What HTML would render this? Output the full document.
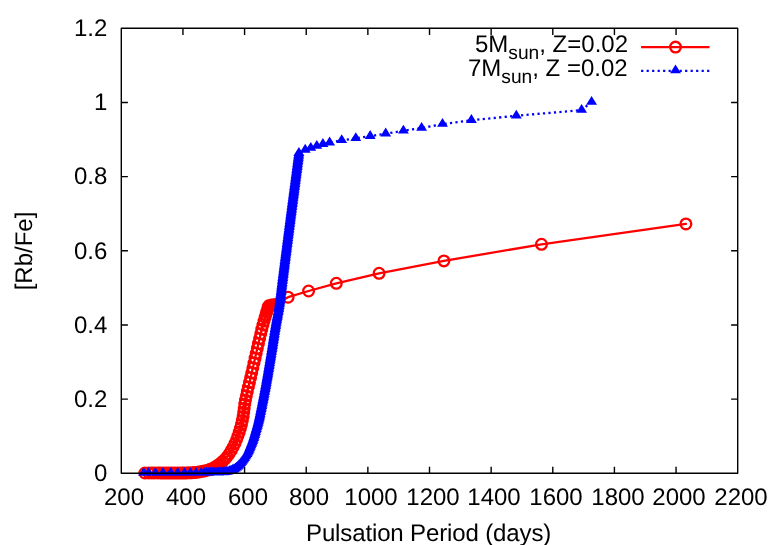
<!DOCTYPE html>
<html><head><meta charset="utf-8"><title>plot</title><style>html,body{margin:0;padding:0;background:#fff}
#c{position:relative;width:778px;height:545px;overflow:hidden;background:#fff;font-family:"Liberation Sans",sans-serif;font-size:24px;color:#000}
.t{position:absolute;white-space:nowrap;line-height:24px;height:24px;will-change:transform;text-rendering:geometricPrecision}
.r{text-align:right}
.c{text-align:center}
sub{font-size:19.2px;margin-right:0px;vertical-align:baseline;position:relative;top:6.8px;line-height:0}
</style></head><body><div id="c"><svg width="778" height="545" viewBox="0 0 778 545" style="position:absolute;left:0;top:0">
<rect width="778" height="545" fill="#fff"/>
<path d="M182.94,473.3v-6.6M182.94,28.3v6.6M244.58,473.3v-6.6M244.58,28.3v6.6M306.22,473.3v-6.6M306.22,28.3v6.6M367.86,473.3v-6.6M367.86,28.3v6.6M429.5,473.3v-6.6M429.5,28.3v6.6M491.14,473.3v-6.6M491.14,28.3v6.6M552.78,473.3v-6.6M552.78,28.3v6.6M614.42,473.3v-6.6M614.42,28.3v6.6M676.06,473.3v-6.6M676.06,28.3v6.6M121.3,399.13h6.6M737.7,399.13h-6.6M121.3,324.97h6.6M737.7,324.97h-6.6M121.3,250.8h6.6M737.7,250.8h-6.6M121.3,176.63h6.6M737.7,176.63h-6.6M121.3,102.47h6.6M737.7,102.47h-6.6" stroke="#000" stroke-width="1.4" fill="none" stroke-linejoin="round"/>
<g stroke="#f00" stroke-width="2.3" fill="none" stroke-linejoin="round" stroke-linecap="round">
<polyline points="144.85,473 148.8,473 151.9,473 154.6,473 158,473 160.5,473 162.8,473 164.8,473.01 166.63,473.01 168.44,473 170.25,473 172.06,472.99 173.88,472.99 175.7,472.98 177.51,472.98 179.33,472.97 181.15,472.96 182.96,472.95 184.77,472.92 186.59,472.89 188.42,472.85 190.26,472.79 192.09,472.7 193.91,472.57 195.75,472.4 197.56,472.17 199.38,471.9 201.2,471.6 202.99,471.28 204.75,470.89 206.51,470.44 208.24,469.92 209.97,469.33 211.66,468.66 213.32,467.9 215.04,466.97 216.86,465.87 218.73,464.6 220.69,463.11 222.73,461.34 224.85,459.23 227.01,456.75 229.23,453.79 231.35,450.46 233.25,447.01 234.97,443.43 236.51,439.75 237.93,435.99 239.24,432.18 240.4,428.34 241.45,424.43 242.35,420.43 243.1,416.4 243.68,412.35 244.2,408.24 244.78,404.12 245.5,400 246.38,395.77 247.35,391.43 248.39,387 249.48,382.39 250.6,377.65 251.72,372.79 252.84,367.92 253.97,363.04 255.09,358.17 256.22,353.26 257.34,348.34 258.45,343.46 259.59,338.54 260.72,333.71 261.81,329.21 262.92,325.01 264.03,321.08 265.1,317.38 265.86,314.77 266.65,312.16 267.44,309.55 268.08,306.89 269.28,305.45 271.28,305.02 273.3,304.7 275.29,304.41 288.1,297.2 308.6,291 336.3,283.3 379.1,273.3 443.9,260.9 541.5,244.3 685.9,223.9"/>
<path d="M641.1,47.1H709.5" stroke-linecap="butt"/>
<path d="M139.5,473a5.35,5.35 0 1,0 10.7,0a5.35,5.35 0 1,0 -10.7,0M143.45,473a5.35,5.35 0 1,0 10.7,0a5.35,5.35 0 1,0 -10.7,0M146.55,473a5.35,5.35 0 1,0 10.7,0a5.35,5.35 0 1,0 -10.7,0M149.25,473a5.35,5.35 0 1,0 10.7,0a5.35,5.35 0 1,0 -10.7,0M152.65,473a5.35,5.35 0 1,0 10.7,0a5.35,5.35 0 1,0 -10.7,0M155.15,473a5.35,5.35 0 1,0 10.7,0a5.35,5.35 0 1,0 -10.7,0M157.45,473a5.35,5.35 0 1,0 10.7,0a5.35,5.35 0 1,0 -10.7,0M159.45,473.01a5.35,5.35 0 1,0 10.7,0a5.35,5.35 0 1,0 -10.7,0M161.28,473.01a5.35,5.35 0 1,0 10.7,0a5.35,5.35 0 1,0 -10.7,0M163.09,473a5.35,5.35 0 1,0 10.7,0a5.35,5.35 0 1,0 -10.7,0M164.9,473a5.35,5.35 0 1,0 10.7,0a5.35,5.35 0 1,0 -10.7,0M166.71,472.99a5.35,5.35 0 1,0 10.7,0a5.35,5.35 0 1,0 -10.7,0M168.53,472.99a5.35,5.35 0 1,0 10.7,0a5.35,5.35 0 1,0 -10.7,0M170.35,472.98a5.35,5.35 0 1,0 10.7,0a5.35,5.35 0 1,0 -10.7,0M172.16,472.98a5.35,5.35 0 1,0 10.7,0a5.35,5.35 0 1,0 -10.7,0M173.98,472.97a5.35,5.35 0 1,0 10.7,0a5.35,5.35 0 1,0 -10.7,0M175.8,472.96a5.35,5.35 0 1,0 10.7,0a5.35,5.35 0 1,0 -10.7,0M177.61,472.95a5.35,5.35 0 1,0 10.7,0a5.35,5.35 0 1,0 -10.7,0M179.42,472.92a5.35,5.35 0 1,0 10.7,0a5.35,5.35 0 1,0 -10.7,0M181.24,472.89a5.35,5.35 0 1,0 10.7,0a5.35,5.35 0 1,0 -10.7,0M183.07,472.85a5.35,5.35 0 1,0 10.7,0a5.35,5.35 0 1,0 -10.7,0M184.91,472.79a5.35,5.35 0 1,0 10.7,0a5.35,5.35 0 1,0 -10.7,0M186.74,472.7a5.35,5.35 0 1,0 10.7,0a5.35,5.35 0 1,0 -10.7,0M188.56,472.57a5.35,5.35 0 1,0 10.7,0a5.35,5.35 0 1,0 -10.7,0M190.4,472.4a5.35,5.35 0 1,0 10.7,0a5.35,5.35 0 1,0 -10.7,0M192.21,472.17a5.35,5.35 0 1,0 10.7,0a5.35,5.35 0 1,0 -10.7,0M194.03,471.9a5.35,5.35 0 1,0 10.7,0a5.35,5.35 0 1,0 -10.7,0M195.85,471.6a5.35,5.35 0 1,0 10.7,0a5.35,5.35 0 1,0 -10.7,0M197.64,471.28a5.35,5.35 0 1,0 10.7,0a5.35,5.35 0 1,0 -10.7,0M199.4,470.89a5.35,5.35 0 1,0 10.7,0a5.35,5.35 0 1,0 -10.7,0M201.16,470.44a5.35,5.35 0 1,0 10.7,0a5.35,5.35 0 1,0 -10.7,0M202.89,469.92a5.35,5.35 0 1,0 10.7,0a5.35,5.35 0 1,0 -10.7,0M204.62,469.33a5.35,5.35 0 1,0 10.7,0a5.35,5.35 0 1,0 -10.7,0M206.31,468.66a5.35,5.35 0 1,0 10.7,0a5.35,5.35 0 1,0 -10.7,0M207.97,467.9a5.35,5.35 0 1,0 10.7,0a5.35,5.35 0 1,0 -10.7,0M209.69,466.97a5.35,5.35 0 1,0 10.7,0a5.35,5.35 0 1,0 -10.7,0M211.51,465.87a5.35,5.35 0 1,0 10.7,0a5.35,5.35 0 1,0 -10.7,0M213.38,464.6a5.35,5.35 0 1,0 10.7,0a5.35,5.35 0 1,0 -10.7,0M215.34,463.11a5.35,5.35 0 1,0 10.7,0a5.35,5.35 0 1,0 -10.7,0M217.38,461.34a5.35,5.35 0 1,0 10.7,0a5.35,5.35 0 1,0 -10.7,0M219.5,459.23a5.35,5.35 0 1,0 10.7,0a5.35,5.35 0 1,0 -10.7,0M221.66,456.75a5.35,5.35 0 1,0 10.7,0a5.35,5.35 0 1,0 -10.7,0M223.88,453.79a5.35,5.35 0 1,0 10.7,0a5.35,5.35 0 1,0 -10.7,0M226,450.46a5.35,5.35 0 1,0 10.7,0a5.35,5.35 0 1,0 -10.7,0M227.9,447.01a5.35,5.35 0 1,0 10.7,0a5.35,5.35 0 1,0 -10.7,0M229.62,443.43a5.35,5.35 0 1,0 10.7,0a5.35,5.35 0 1,0 -10.7,0M231.16,439.75a5.35,5.35 0 1,0 10.7,0a5.35,5.35 0 1,0 -10.7,0M232.58,435.99a5.35,5.35 0 1,0 10.7,0a5.35,5.35 0 1,0 -10.7,0M233.89,432.18a5.35,5.35 0 1,0 10.7,0a5.35,5.35 0 1,0 -10.7,0M235.05,428.34a5.35,5.35 0 1,0 10.7,0a5.35,5.35 0 1,0 -10.7,0M236.1,424.43a5.35,5.35 0 1,0 10.7,0a5.35,5.35 0 1,0 -10.7,0M237,420.43a5.35,5.35 0 1,0 10.7,0a5.35,5.35 0 1,0 -10.7,0M237.75,416.4a5.35,5.35 0 1,0 10.7,0a5.35,5.35 0 1,0 -10.7,0M238.33,412.35a5.35,5.35 0 1,0 10.7,0a5.35,5.35 0 1,0 -10.7,0M238.85,408.24a5.35,5.35 0 1,0 10.7,0a5.35,5.35 0 1,0 -10.7,0M239.43,404.12a5.35,5.35 0 1,0 10.7,0a5.35,5.35 0 1,0 -10.7,0M240.15,400a5.35,5.35 0 1,0 10.7,0a5.35,5.35 0 1,0 -10.7,0M241.03,395.77a5.35,5.35 0 1,0 10.7,0a5.35,5.35 0 1,0 -10.7,0M242,391.43a5.35,5.35 0 1,0 10.7,0a5.35,5.35 0 1,0 -10.7,0M243.04,387a5.35,5.35 0 1,0 10.7,0a5.35,5.35 0 1,0 -10.7,0M244.13,382.39a5.35,5.35 0 1,0 10.7,0a5.35,5.35 0 1,0 -10.7,0M245.25,377.65a5.35,5.35 0 1,0 10.7,0a5.35,5.35 0 1,0 -10.7,0M246.37,372.79a5.35,5.35 0 1,0 10.7,0a5.35,5.35 0 1,0 -10.7,0M247.49,367.92a5.35,5.35 0 1,0 10.7,0a5.35,5.35 0 1,0 -10.7,0M248.62,363.04a5.35,5.35 0 1,0 10.7,0a5.35,5.35 0 1,0 -10.7,0M249.74,358.17a5.35,5.35 0 1,0 10.7,0a5.35,5.35 0 1,0 -10.7,0M250.87,353.26a5.35,5.35 0 1,0 10.7,0a5.35,5.35 0 1,0 -10.7,0M251.99,348.34a5.35,5.35 0 1,0 10.7,0a5.35,5.35 0 1,0 -10.7,0M253.1,343.46a5.35,5.35 0 1,0 10.7,0a5.35,5.35 0 1,0 -10.7,0M254.24,338.54a5.35,5.35 0 1,0 10.7,0a5.35,5.35 0 1,0 -10.7,0M255.37,333.71a5.35,5.35 0 1,0 10.7,0a5.35,5.35 0 1,0 -10.7,0M256.46,329.21a5.35,5.35 0 1,0 10.7,0a5.35,5.35 0 1,0 -10.7,0M257.57,325.01a5.35,5.35 0 1,0 10.7,0a5.35,5.35 0 1,0 -10.7,0M258.68,321.08a5.35,5.35 0 1,0 10.7,0a5.35,5.35 0 1,0 -10.7,0M259.75,317.38a5.35,5.35 0 1,0 10.7,0a5.35,5.35 0 1,0 -10.7,0M260.51,314.77a5.35,5.35 0 1,0 10.7,0a5.35,5.35 0 1,0 -10.7,0M261.3,312.16a5.35,5.35 0 1,0 10.7,0a5.35,5.35 0 1,0 -10.7,0M262.09,309.55a5.35,5.35 0 1,0 10.7,0a5.35,5.35 0 1,0 -10.7,0M262.73,306.89a5.35,5.35 0 1,0 10.7,0a5.35,5.35 0 1,0 -10.7,0M263.93,305.45a5.35,5.35 0 1,0 10.7,0a5.35,5.35 0 1,0 -10.7,0M265.93,305.02a5.35,5.35 0 1,0 10.7,0a5.35,5.35 0 1,0 -10.7,0M267.95,304.7a5.35,5.35 0 1,0 10.7,0a5.35,5.35 0 1,0 -10.7,0M269.94,304.41a5.35,5.35 0 1,0 10.7,0a5.35,5.35 0 1,0 -10.7,0M282.75,297.2a5.35,5.35 0 1,0 10.7,0a5.35,5.35 0 1,0 -10.7,0M303.25,291a5.35,5.35 0 1,0 10.7,0a5.35,5.35 0 1,0 -10.7,0M330.95,283.3a5.35,5.35 0 1,0 10.7,0a5.35,5.35 0 1,0 -10.7,0M373.75,273.3a5.35,5.35 0 1,0 10.7,0a5.35,5.35 0 1,0 -10.7,0M438.55,260.9a5.35,5.35 0 1,0 10.7,0a5.35,5.35 0 1,0 -10.7,0M536.15,244.3a5.35,5.35 0 1,0 10.7,0a5.35,5.35 0 1,0 -10.7,0M680.55,223.9a5.35,5.35 0 1,0 10.7,0a5.35,5.35 0 1,0 -10.7,0M670.15,47.1a5.35,5.35 0 1,0 10.7,0a5.35,5.35 0 1,0 -10.7,0"/></g>
<g stroke="#00f" stroke-width="2.3" fill="none" stroke-dasharray="2.2 3.3">
<polyline points="143.6,473 148.5,473 155.25,473 162.9,473 170.8,473 177.75,473 184.5,473 190.35,473 196.2,473 201.15,473 204.3,473 206.7,472.97 208.8,472.92 210.7,472.89 212.4,472.85 213.9,472.82 215.4,472.79 217.08,472.73 218.64,472.67 220.19,472.59 221.75,472.51 223.32,472.42 224.88,472.3 226.42,472.1 227.96,471.75 229.49,471.31 230.99,470.83 232.46,470.23 233.86,469.53 235.22,468.73 236.5,467.82 237.67,466.81 238.79,465.72 239.85,464.58 240.85,463.38 241.83,462.13 242.77,460.84 243.67,459.55 244.52,458.24 245.36,456.89 246.17,455.55 246.98,454.21 247.77,452.82 248.47,451.41 249.13,449.97 249.76,448.5 250.37,447.07 250.97,445.61 251.56,444.15 252.13,442.67 252.69,441.18 253.22,439.68 253.72,438.17 254.19,436.67 254.65,435.16 255.09,433.66 255.52,432.15 255.96,430.65 256.4,429.16 256.86,427.64 257.32,426.13 257.74,424.63 258.15,423.09 258.53,421.55 258.89,420 259.24,418.46 259.57,416.94 259.9,415.42 260.22,413.91 260.54,412.37 260.86,410.83 261.17,409.3 261.48,407.77 261.79,406.23 262.11,404.69 262.41,403.14 262.72,401.6 263.03,400.05 263.33,398.52 263.63,396.98 263.94,395.44 264.23,393.92 264.52,392.39 264.82,390.86 265.1,389.32 265.39,387.78 265.68,386.23 265.96,384.69 266.24,383.16 266.51,381.63 266.78,380.1 267.05,378.56 267.32,377.02 267.59,375.47 267.86,373.93 268.12,372.4 268.38,370.87 268.64,369.34 268.9,367.81 269.16,366.27 269.42,364.73 269.68,363.18 269.94,361.64 270.19,360.11 270.45,358.57 270.7,357.02 270.96,355.47 271.22,353.93 271.47,352.39 271.72,350.86 271.97,349.32 272.22,347.79 272.46,346.24 272.7,344.7 272.94,343.17 273.18,341.63 273.42,340.07 273.66,338.52 273.9,336.99 274.14,335.45 274.38,333.9 274.63,332.36 274.87,330.82 275.12,329.28 275.38,327.74 275.64,326.21 275.9,324.67 276.18,323.12 276.46,321.57 276.75,320.04 277.04,318.51 277.33,316.97 277.62,315.42 277.9,313.89 278.18,312.36 278.46,310.83 278.73,309.28 278.99,307.73 279.24,306.18 279.48,304.64 279.71,303.1 279.94,301.55 280.15,300 280.36,298.45 280.55,296.9 280.75,295.35 280.93,293.78 281.12,292.22 281.3,290.67 281.48,289.12 281.66,287.57 281.84,286.02 282.03,284.48 282.22,282.93 282.4,281.39 282.6,279.84 282.79,278.3 282.98,276.75 283.18,275.21 283.37,273.66 283.57,272.12 283.77,270.57 283.96,269.03 284.16,267.49 284.35,265.95 284.55,264.4 284.75,262.86 284.94,261.31 285.14,259.76 285.34,258.22 285.54,256.67 285.73,255.13 285.93,253.59 286.13,252.05 286.32,250.51 286.52,248.96 286.72,247.42 286.91,245.88 287.11,244.34 287.31,242.8 287.51,241.26 287.7,239.71 287.9,238.17 288.1,236.63 288.3,235.08 288.5,233.54 288.69,232 288.89,230.46 289.09,228.92 289.29,227.38 289.49,225.84 289.69,224.3 289.88,222.76 290.08,221.23 290.28,219.69 290.48,218.15 290.68,216.61 290.88,215.07 291.08,213.53 291.28,212 291.48,210.46 291.68,208.92 291.88,207.38 292.09,205.83 292.29,204.29 292.49,202.75 292.69,201.21 292.9,199.66 293.1,198.12 293.3,196.58 293.5,195.04 293.71,193.49 293.91,191.95 294.11,190.41 294.32,188.86 294.52,187.32 294.72,185.78 294.93,184.24 295.13,182.7 295.33,181.16 295.53,179.62 295.74,178.08 295.94,176.53 296.14,174.98 296.35,173.44 296.55,171.89 296.76,170.34 296.96,168.8 297.16,167.26 297.36,165.72 297.56,164.18 297.77,162.64 297.97,161.09 298.17,159.55 298.37,158 298.56,156.46 298.76,154.9 298.95,153.33 298.9,153.06 305.2,149.9 310.8,148.1 316.8,146 322.9,144.2 329.6,142.7 341.7,140.3 355.8,138.3 370.2,136.2 385.7,133.7 403.4,130.8 421.6,128 442.5,124.1 471.4,120.2 516.3,115.8 581.6,110.1 591.6,102"/>
<path d="M641.1,70.8H709.5"/></g>
<path d="M143.6,466.9l-5.45,8.83h10.9zM148.5,466.9l-5.45,8.83h10.9zM155.25,466.9l-5.45,8.83h10.9zM162.9,466.9l-5.45,8.83h10.9zM170.8,466.9l-5.45,8.83h10.9zM177.75,466.9l-5.45,8.83h10.9zM184.5,466.9l-5.45,8.83h10.9zM190.35,466.9l-5.45,8.83h10.9zM196.2,466.9l-5.45,8.83h10.9zM201.15,466.9l-5.45,8.83h10.9zM204.3,466.9l-5.45,8.83h10.9zM206.7,466.86l-5.45,8.83h10.9zM208.8,466.82l-5.45,8.83h10.9zM210.7,466.78l-5.45,8.83h10.9zM212.4,466.75l-5.45,8.83h10.9zM213.9,466.72l-5.45,8.83h10.9zM215.4,466.69l-5.45,8.83h10.9zM217.08,466.62l-5.45,8.83h10.9zM218.64,466.56l-5.45,8.83h10.9zM220.19,466.49l-5.45,8.83h10.9zM221.75,466.41l-5.45,8.83h10.9zM223.32,466.31l-5.45,8.83h10.9zM224.88,466.19l-5.45,8.83h10.9zM226.42,466l-5.45,8.83h10.9zM227.96,465.65l-5.45,8.83h10.9zM229.49,465.21l-5.45,8.83h10.9zM230.99,464.72l-5.45,8.83h10.9zM232.46,464.12l-5.45,8.83h10.9zM233.86,463.43l-5.45,8.83h10.9zM235.22,462.63l-5.45,8.83h10.9zM236.5,461.72l-5.45,8.83h10.9zM237.67,460.7l-5.45,8.83h10.9zM238.79,459.61l-5.45,8.83h10.9zM239.85,458.48l-5.45,8.83h10.9zM240.85,457.28l-5.45,8.83h10.9zM241.83,456.02l-5.45,8.83h10.9zM242.77,454.74l-5.45,8.83h10.9zM243.67,453.45l-5.45,8.83h10.9zM244.52,452.14l-5.45,8.83h10.9zM245.36,450.79l-5.45,8.83h10.9zM246.17,449.44l-5.45,8.83h10.9zM246.98,448.11l-5.45,8.83h10.9zM247.77,446.72l-5.45,8.83h10.9zM248.47,445.3l-5.45,8.83h10.9zM249.13,443.86l-5.45,8.83h10.9zM249.76,442.4l-5.45,8.83h10.9zM250.37,440.96l-5.45,8.83h10.9zM250.97,439.5l-5.45,8.83h10.9zM251.56,438.04l-5.45,8.83h10.9zM252.13,436.57l-5.45,8.83h10.9zM252.69,435.07l-5.45,8.83h10.9zM253.22,433.57l-5.45,8.83h10.9zM253.72,432.07l-5.45,8.83h10.9zM254.19,430.56l-5.45,8.83h10.9zM254.65,429.06l-5.45,8.83h10.9zM255.09,427.55l-5.45,8.83h10.9zM255.52,426.05l-5.45,8.83h10.9zM255.96,424.54l-5.45,8.83h10.9zM256.4,423.05l-5.45,8.83h10.9zM256.86,421.53l-5.45,8.83h10.9zM257.32,420.03l-5.45,8.83h10.9zM257.74,418.53l-5.45,8.83h10.9zM258.15,416.99l-5.45,8.83h10.9zM258.53,415.44l-5.45,8.83h10.9zM258.89,413.9l-5.45,8.83h10.9zM259.24,412.35l-5.45,8.83h10.9zM259.57,410.84l-5.45,8.83h10.9zM259.9,409.32l-5.45,8.83h10.9zM260.22,407.8l-5.45,8.83h10.9zM260.54,406.27l-5.45,8.83h10.9zM260.86,404.73l-5.45,8.83h10.9zM261.17,403.2l-5.45,8.83h10.9zM261.48,401.67l-5.45,8.83h10.9zM261.79,400.13l-5.45,8.83h10.9zM262.11,398.58l-5.45,8.83h10.9zM262.41,397.04l-5.45,8.83h10.9zM262.72,395.49l-5.45,8.83h10.9zM263.03,393.95l-5.45,8.83h10.9zM263.33,392.42l-5.45,8.83h10.9zM263.63,390.88l-5.45,8.83h10.9zM263.94,389.34l-5.45,8.83h10.9zM264.23,387.81l-5.45,8.83h10.9zM264.52,386.29l-5.45,8.83h10.9zM264.82,384.76l-5.45,8.83h10.9zM265.1,383.22l-5.45,8.83h10.9zM265.39,381.67l-5.45,8.83h10.9zM265.68,380.12l-5.45,8.83h10.9zM265.96,378.59l-5.45,8.83h10.9zM266.24,377.06l-5.45,8.83h10.9zM266.51,375.53l-5.45,8.83h10.9zM266.78,373.99l-5.45,8.83h10.9zM267.05,372.45l-5.45,8.83h10.9zM267.32,370.91l-5.45,8.83h10.9zM267.59,369.37l-5.45,8.83h10.9zM267.86,367.83l-5.45,8.83h10.9zM268.12,366.3l-5.45,8.83h10.9zM268.38,364.77l-5.45,8.83h10.9zM268.64,363.23l-5.45,8.83h10.9zM268.9,361.7l-5.45,8.83h10.9zM269.16,360.17l-5.45,8.83h10.9zM269.42,358.62l-5.45,8.83h10.9zM269.68,357.08l-5.45,8.83h10.9zM269.94,355.54l-5.45,8.83h10.9zM270.19,354l-5.45,8.83h10.9zM270.45,352.47l-5.45,8.83h10.9zM270.7,350.92l-5.45,8.83h10.9zM270.96,349.37l-5.45,8.83h10.9zM271.22,347.83l-5.45,8.83h10.9zM271.47,346.29l-5.45,8.83h10.9zM271.72,344.75l-5.45,8.83h10.9zM271.97,343.22l-5.45,8.83h10.9zM272.22,341.68l-5.45,8.83h10.9zM272.46,340.14l-5.45,8.83h10.9zM272.7,338.6l-5.45,8.83h10.9zM272.94,337.06l-5.45,8.83h10.9zM273.18,335.53l-5.45,8.83h10.9zM273.42,333.97l-5.45,8.83h10.9zM273.66,332.42l-5.45,8.83h10.9zM273.9,330.88l-5.45,8.83h10.9zM274.14,329.35l-5.45,8.83h10.9zM274.38,327.8l-5.45,8.83h10.9zM274.63,326.26l-5.45,8.83h10.9zM274.87,324.72l-5.45,8.83h10.9zM275.12,323.18l-5.45,8.83h10.9zM275.38,321.64l-5.45,8.83h10.9zM275.64,320.1l-5.45,8.83h10.9zM275.9,318.56l-5.45,8.83h10.9zM276.18,317.01l-5.45,8.83h10.9zM276.46,315.46l-5.45,8.83h10.9zM276.75,313.93l-5.45,8.83h10.9zM277.04,312.41l-5.45,8.83h10.9zM277.33,310.86l-5.45,8.83h10.9zM277.62,309.32l-5.45,8.83h10.9zM277.9,307.79l-5.45,8.83h10.9zM278.18,306.26l-5.45,8.83h10.9zM278.46,304.72l-5.45,8.83h10.9zM278.73,303.18l-5.45,8.83h10.9zM278.99,301.63l-5.45,8.83h10.9zM279.24,300.08l-5.45,8.83h10.9zM279.48,298.54l-5.45,8.83h10.9zM279.71,297l-5.45,8.83h10.9zM279.94,295.45l-5.45,8.83h10.9zM280.15,293.9l-5.45,8.83h10.9zM280.36,292.35l-5.45,8.83h10.9zM280.55,290.8l-5.45,8.83h10.9zM280.75,289.24l-5.45,8.83h10.9zM280.93,287.68l-5.45,8.83h10.9zM281.12,286.11l-5.45,8.83h10.9zM281.3,284.56l-5.45,8.83h10.9zM281.48,283.01l-5.45,8.83h10.9zM281.66,281.47l-5.45,8.83h10.9zM281.84,279.92l-5.45,8.83h10.9zM282.03,278.37l-5.45,8.83h10.9zM282.22,276.83l-5.45,8.83h10.9zM282.4,275.29l-5.45,8.83h10.9zM282.6,273.74l-5.45,8.83h10.9zM282.79,272.19l-5.45,8.83h10.9zM282.98,270.65l-5.45,8.83h10.9zM283.18,269.1l-5.45,8.83h10.9zM283.37,267.56l-5.45,8.83h10.9zM283.57,266.01l-5.45,8.83h10.9zM283.77,264.47l-5.45,8.83h10.9zM283.96,262.93l-5.45,8.83h10.9zM284.16,261.38l-5.45,8.83h10.9zM284.35,259.84l-5.45,8.83h10.9zM284.55,258.3l-5.45,8.83h10.9zM284.75,256.75l-5.45,8.83h10.9zM284.94,255.21l-5.45,8.83h10.9zM285.14,253.66l-5.45,8.83h10.9zM285.34,252.11l-5.45,8.83h10.9zM285.54,250.57l-5.45,8.83h10.9zM285.73,249.03l-5.45,8.83h10.9zM285.93,247.49l-5.45,8.83h10.9zM286.13,245.94l-5.45,8.83h10.9zM286.32,244.4l-5.45,8.83h10.9zM286.52,242.86l-5.45,8.83h10.9zM286.72,241.32l-5.45,8.83h10.9zM286.91,239.78l-5.45,8.83h10.9zM287.11,238.24l-5.45,8.83h10.9zM287.31,236.7l-5.45,8.83h10.9zM287.51,235.15l-5.45,8.83h10.9zM287.7,233.61l-5.45,8.83h10.9zM287.9,232.07l-5.45,8.83h10.9zM288.1,230.52l-5.45,8.83h10.9zM288.3,228.98l-5.45,8.83h10.9zM288.5,227.44l-5.45,8.83h10.9zM288.69,225.9l-5.45,8.83h10.9zM288.89,224.36l-5.45,8.83h10.9zM289.09,222.82l-5.45,8.83h10.9zM289.29,221.28l-5.45,8.83h10.9zM289.49,219.74l-5.45,8.83h10.9zM289.69,218.2l-5.45,8.83h10.9zM289.88,216.66l-5.45,8.83h10.9zM290.08,215.12l-5.45,8.83h10.9zM290.28,213.58l-5.45,8.83h10.9zM290.48,212.04l-5.45,8.83h10.9zM290.68,210.51l-5.45,8.83h10.9zM290.88,208.97l-5.45,8.83h10.9zM291.08,207.43l-5.45,8.83h10.9zM291.28,205.89l-5.45,8.83h10.9zM291.48,204.35l-5.45,8.83h10.9zM291.68,202.81l-5.45,8.83h10.9zM291.88,201.27l-5.45,8.83h10.9zM292.09,199.73l-5.45,8.83h10.9zM292.29,198.19l-5.45,8.83h10.9zM292.49,196.65l-5.45,8.83h10.9zM292.69,195.1l-5.45,8.83h10.9zM292.9,193.56l-5.45,8.83h10.9zM293.1,192.02l-5.45,8.83h10.9zM293.3,190.47l-5.45,8.83h10.9zM293.5,188.93l-5.45,8.83h10.9zM293.71,187.39l-5.45,8.83h10.9zM293.91,185.85l-5.45,8.83h10.9zM294.11,184.3l-5.45,8.83h10.9zM294.32,182.76l-5.45,8.83h10.9zM294.52,181.22l-5.45,8.83h10.9zM294.72,179.68l-5.45,8.83h10.9zM294.93,178.13l-5.45,8.83h10.9zM295.13,176.59l-5.45,8.83h10.9zM295.33,175.05l-5.45,8.83h10.9zM295.53,173.51l-5.45,8.83h10.9zM295.74,171.97l-5.45,8.83h10.9zM295.94,170.43l-5.45,8.83h10.9zM296.14,168.88l-5.45,8.83h10.9zM296.35,167.33l-5.45,8.83h10.9zM296.55,165.79l-5.45,8.83h10.9zM296.76,164.24l-5.45,8.83h10.9zM296.96,162.7l-5.45,8.83h10.9zM297.16,161.16l-5.45,8.83h10.9zM297.36,159.62l-5.45,8.83h10.9zM297.56,158.08l-5.45,8.83h10.9zM297.77,156.53l-5.45,8.83h10.9zM297.97,154.99l-5.45,8.83h10.9zM298.17,153.45l-5.45,8.83h10.9zM298.37,151.9l-5.45,8.83h10.9zM298.56,150.36l-5.45,8.83h10.9zM298.76,148.8l-5.45,8.83h10.9zM298.95,147.23l-5.45,8.83h10.9zM298.9,146.96l-5.45,8.83h10.9zM305.2,143.8l-5.45,8.83h10.9zM310.8,142l-5.45,8.83h10.9zM316.8,139.9l-5.45,8.83h10.9zM322.9,138.1l-5.45,8.83h10.9zM329.6,136.6l-5.45,8.83h10.9zM341.7,134.2l-5.45,8.83h10.9zM355.8,132.2l-5.45,8.83h10.9zM370.2,130.1l-5.45,8.83h10.9zM385.7,127.6l-5.45,8.83h10.9zM403.4,124.7l-5.45,8.83h10.9zM421.6,121.9l-5.45,8.83h10.9zM442.5,118l-5.45,8.83h10.9zM471.4,114.1l-5.45,8.83h10.9zM516.3,109.7l-5.45,8.83h10.9zM581.6,104l-5.45,8.83h10.9zM591.6,95.9l-5.45,8.83h10.9zM675.5,64.5l-5.45,8.83h10.9z" fill="#00f"/>
<path d="M121.3,28.3H737.7V473.3H121.3Z" stroke="#000" stroke-width="1.4" fill="none" stroke-linejoin="round"/>
</svg>
<div class="t r" style="right:670.4px;top:462px">0</div>
<div class="t r" style="right:670.4px;top:387.83px">0.2</div>
<div class="t r" style="right:670.4px;top:313.67px">0.4</div>
<div class="t r" style="right:670.4px;top:239.5px">0.6</div>
<div class="t r" style="right:670.4px;top:165.33px">0.8</div>
<div class="t r" style="right:670.4px;top:91.17px">1</div>
<div class="t r" style="right:670.4px;top:17px">1.2</div>
<div class="t c" style="left:84.4px;width:80px;top:485.7px">200</div>
<div class="t c" style="left:146.04px;width:80px;top:485.7px">400</div>
<div class="t c" style="left:207.68px;width:80px;top:485.7px">600</div>
<div class="t c" style="left:269.32px;width:80px;top:485.7px">800</div>
<div class="t c" style="left:330.96px;width:80px;top:485.7px">1000</div>
<div class="t c" style="left:392.6px;width:80px;top:485.7px">1200</div>
<div class="t c" style="left:454.24px;width:80px;top:485.7px">1400</div>
<div class="t c" style="left:515.88px;width:80px;top:485.7px">1600</div>
<div class="t c" style="left:577.52px;width:80px;top:485.7px">1800</div>
<div class="t c" style="left:639.16px;width:80px;top:485.7px">2000</div>
<div class="t c" style="left:700.8px;width:80px;top:485.7px">2200</div>
<div class="t" style="left:306.2px;top:522px;letter-spacing:-0.13px">Pulsation Period (days)</div>
<div class="t" style="left:-15.4px;top:239px;width:80px;text-align:center;transform:rotate(-90deg);transform-origin:50% 50%">[Rb/Fe]</div>
<div class="t r" style="right:150.4px;top:33.4px">5M<sub>sun</sub>, Z=0.02</div>
<div class="t r" style="right:150.4px;top:57.4px">7M<sub>sun</sub>, Z =0.02</div></div></body></html>
